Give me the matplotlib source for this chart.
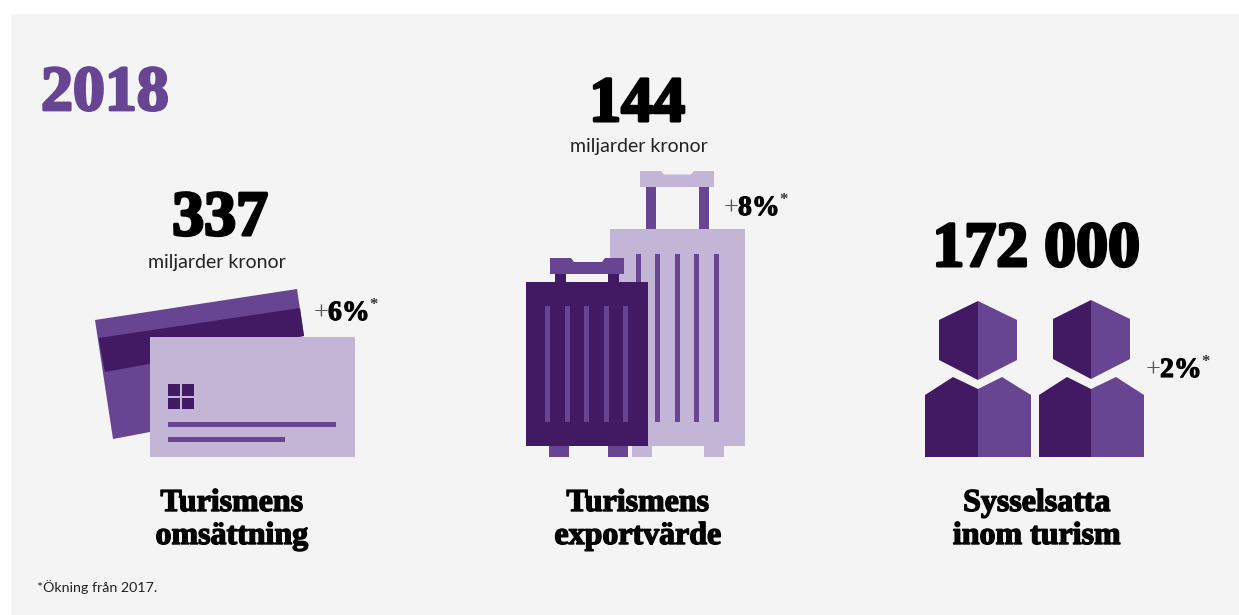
import matplotlib
matplotlib.use("Agg")
import matplotlib.pyplot as plt
import matplotlib.patheffects as pe
from matplotlib.patches import Polygon, Rectangle

# figures for the three tourism key numbers
year = "2018"
values = [337, 144, 172000]
units = ["miljarder kronor", "miljarder kronor", ""]
changes = [6, 8, 2]
titles = [["Turismens", "omsättning"], ["Turismens", "exportvärde"], ["Sysselsatta", "inom turism"]]
footnote = "*Ökning från 2017."

LIGHT = "#c3b5d6"
MID = "#674593"
DARK = "#411a63"
SERIF = "Liberation Serif"
SANS = "Lato"

fig = plt.figure(figsize=(12.39, 6.15), dpi=100, facecolor="white")
ax = fig.add_axes([0, 0, 1, 1])
ax.set_xlim(0, 1239)
ax.set_ylim(615, 0)
ax.axis("off")


def rect(x0, y0, x1, y1, color, z=2):
    ax.add_patch(Rectangle((x0, y0), x1 - x0, y1 - y0, fc=color, ec="none", zorder=z))


def poly(points, color, z=2):
    ax.add_patch(Polygon(points, closed=True, fc=color, ec="none", zorder=z))


def fat_text(x, y, s, size, color="black", ha="center", stroke=1.0):
    # the serif is not heavy enough by itself, so thicken it with a stroke
    t = ax.text(x, y, s, fontsize=size, family=SERIF, fontweight="bold", color=color,
                ha=ha, va="baseline", zorder=5)
    t.set_path_effects([pe.withStroke(linewidth=stroke, foreground=color)])
    return t


def change_label(x, y, pct):
    ax.text(x, y, "+", fontsize=19, family=SERIF, color="#555555", ha="left", va="baseline", zorder=5)
    fat_text(x + 14, y, f"{pct}%", 20, stroke=0.8, ha="left")
    ax.text(x + 55, y - 11, "*", fontsize=12, family=SERIF, fontweight="bold", color="#333333",
            ha="left", va="baseline", zorder=5)


def draw_cards():
    poly([(95, 320), (297, 289), (304, 336), (150, 360), (150, 432), (113, 439)], MID)
    poly([(98.5, 338), (300, 308), (304, 336), (105, 372)], DARK)
    rect(150, 337, 355, 457, LIGHT, 3)
    # chip
    rect(168, 384, 180.3, 395.8, DARK, 4)
    rect(182, 384, 194, 395.8, DARK, 4)
    rect(168, 397.5, 180.3, 409, DARK, 4)
    rect(182, 397.5, 194, 409, DARK, 4)
    rect(168, 422, 336, 427, MID, 4)
    rect(168, 437, 285, 442, MID, 4)


def draw_bags():
    # large bag behind
    poly([(640, 171), (661, 171), (664, 174.5), (691, 174.5), (694, 171), (714, 171), (714, 187), (640, 187)], LIGHT)
    rect(646, 187, 656, 229, MID)
    rect(699, 187, 709, 229, MID)
    rect(610, 229, 745, 446, LIGHT)
    for x in (636, 655, 675, 694, 714):
        rect(x, 254, x + 5, 422, MID)
    rect(632, 446, 652, 457, LIGHT)
    rect(704, 446, 724, 457, LIGHT)
    # small bag in front
    poly([(550, 258), (571, 258), (574, 262), (602, 262), (605, 258), (624, 258), (624, 274), (550, 274)], MID, 3)
    rect(555, 274, 566, 282, DARK, 3)
    rect(608, 274, 619, 282, DARK, 3)
    rect(526, 282, 648, 446, DARK, 3)
    for x in (545, 565, 584, 604, 623):
        rect(x, 306, x + 5, 422, MID, 4)
    rect(549, 446, 569, 457, MID, 3)
    rect(608, 446, 628, 457, MID, 3)


def draw_person(cx, left, right, head_l, head_r, peak_l, peak_r, head_top):
    poly([(cx, head_top), (cx, head_top + 79), (head_l, head_top + 59), (head_l, head_top + 19)], DARK)
    poly([(cx, head_top), (cx, head_top + 79), (head_r, head_top + 59), (head_r, head_top + 19)], MID)
    poly([(left, 395), (peak_l, 377), (cx, 389), (cx, 457), (left, 457)], DARK)
    poly([(right, 395), (peak_r, 377), (cx, 389), (cx, 457), (right, 457)], MID)


ax.add_patch(Rectangle((11, 14), 1228, 601, fc="#f4f4f4", ec="none", zorder=0))

fat_text(41, 110, year, 46, color=MID, ha="left", stroke=2.0)

# big numbers and their units
num_x = [220, 637, 1036]
num_y = [235, 121, 266]
unit_x = [217, 639, 0]
unit_y = [268, 152, 0]
for x, y, v, ux, uy, u in zip(num_x, num_y, values, unit_x, unit_y, units):
    s = f"{v:,}".replace(",", " ")
    fat_text(x, y, s, 46, stroke=2.2)
    if u:
        ax.text(ux, uy, u, fontsize=14, family=SANS, color="#222222", ha="center",
                va="baseline", zorder=5)

draw_cards()
draw_bags()
draw_person(978, 925, 1031, 939, 1017, 953, 1002, 301)
draw_person(1091, 1039, 1144, 1053, 1130, 1067, 1116, 300)

# percentage change next to each icon
change_x = [314, 724, 1146]
change_y = [320, 215, 377]
for x, y, c in zip(change_x, change_y, changes):
    change_label(x, y, c)

# two line captions under the icons
title_x = [232, 638, 1037]
for x, lines in zip(title_x, titles):
    fat_text(x, 511, lines[0], 23, stroke=1.0)
    fat_text(x, 544, lines[1], 23, stroke=1.0)

ax.text(37, 592, footnote, fontsize=10.3, family=SANS, color="#222222", ha="left", va="baseline", zorder=5)

fig.savefig("out.png", dpi=100, facecolor="white")
